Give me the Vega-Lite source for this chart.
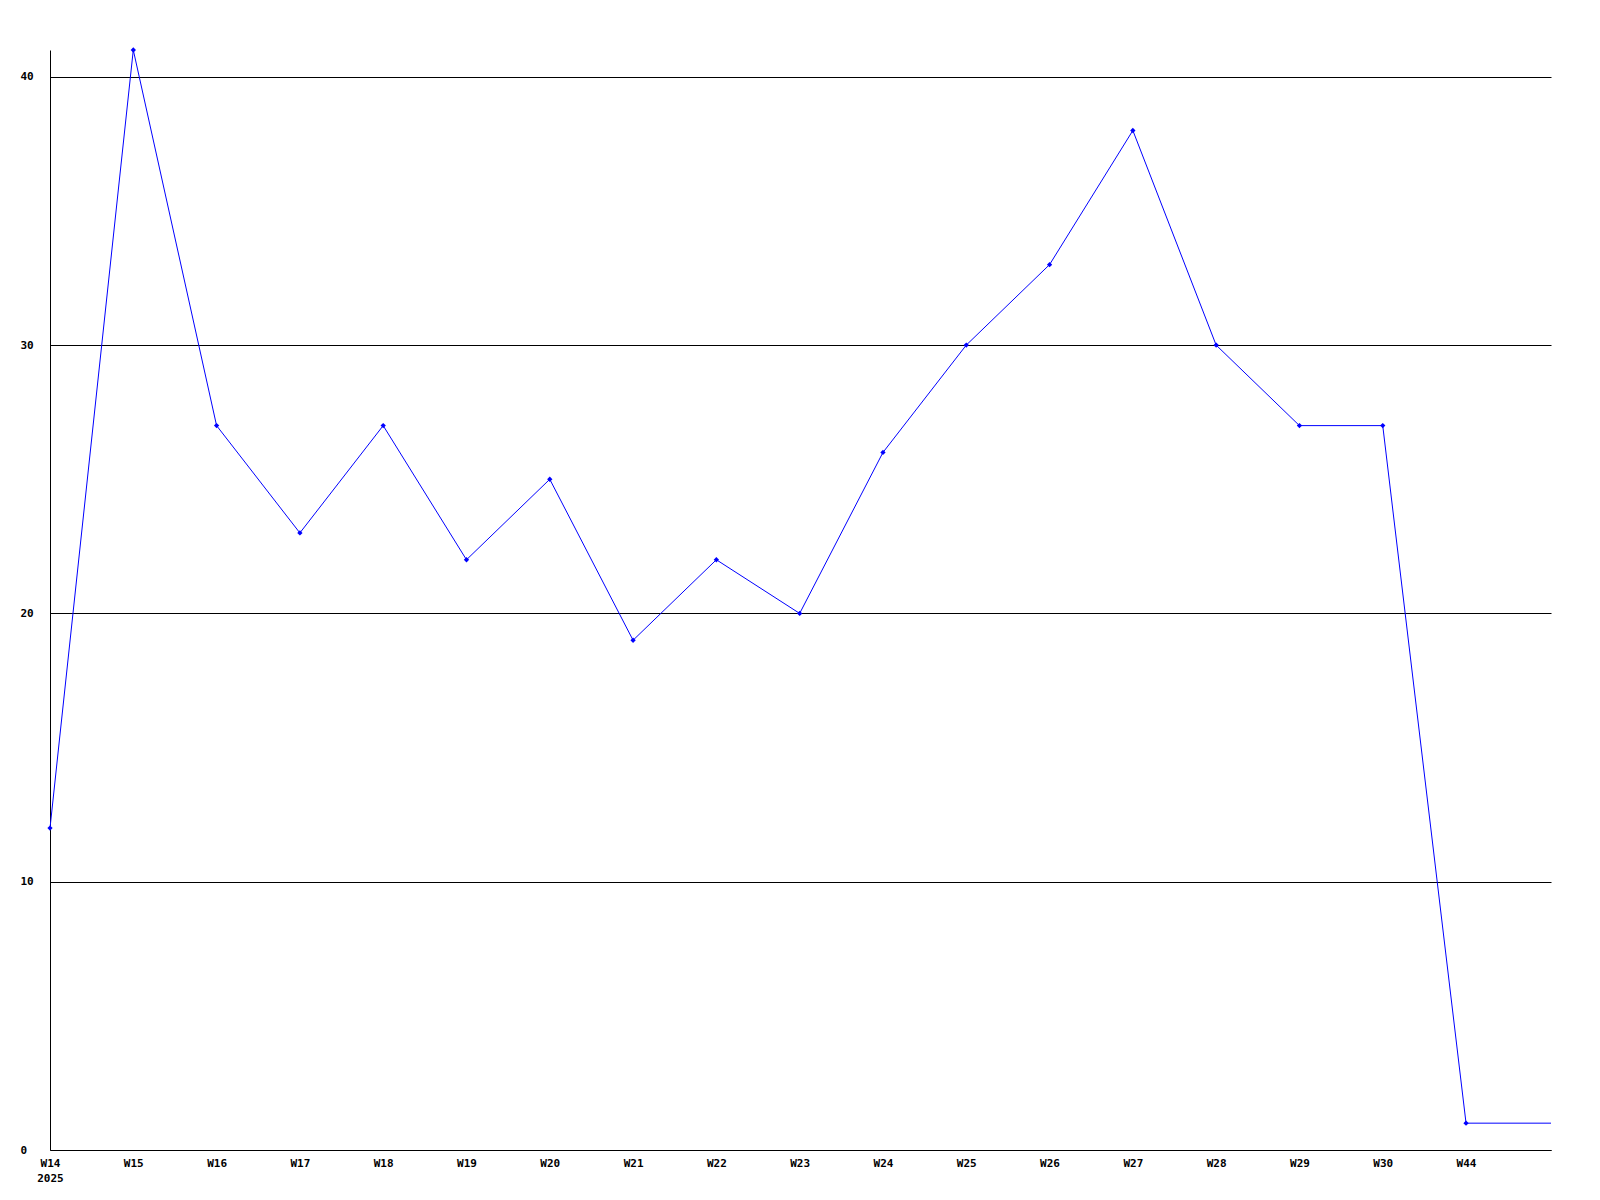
{
  "$schema": "https://vega.github.io/schema/vega-lite/v6.json",
  "autosize": "none",
  "width": 1501,
  "height": 1100,
  "padding": {"left": 50, "top": 50, "right": 49, "bottom": 50},
  "background": "white",
  "config": {"view": {"stroke": null}},
  "data": {"values": [
    {"i": 0, "week": "W14", "v": 12, "m": true},
    {"i": 1, "week": "W15", "v": 41, "m": true},
    {"i": 2, "week": "W16", "v": 27, "m": true},
    {"i": 3, "week": "W17", "v": 23, "m": true},
    {"i": 4, "week": "W18", "v": 27, "m": true},
    {"i": 5, "week": "W19", "v": 22, "m": true},
    {"i": 6, "week": "W20", "v": 25, "m": true},
    {"i": 7, "week": "W21", "v": 19, "m": true},
    {"i": 8, "week": "W22", "v": 22, "m": true},
    {"i": 9, "week": "W23", "v": 20, "m": true},
    {"i": 10, "week": "W24", "v": 26, "m": true},
    {"i": 11, "week": "W25", "v": 30, "m": true},
    {"i": 12, "week": "W26", "v": 33, "m": true},
    {"i": 13, "week": "W27", "v": 38, "m": true},
    {"i": 14, "week": "W28", "v": 30, "m": true},
    {"i": 15, "week": "W29", "v": 27, "m": true},
    {"i": 16, "week": "W30", "v": 27, "m": true},
    {"i": 17, "week": "W44", "v": 1, "m": true},
    {"i": 18.02, "week": "", "v": 1, "m": false}
  ]},
  "encoding": {
    "x": {
      "field": "i", "type": "quantitative",
      "scale": {"domain": [0, 18.02], "nice": false, "zero": false},
      "axis": {
        "title": null,
        "values": [0,1,2,3,4,5,6,7,8,9,10,11,12,13,14,15,16,17],
        "labelExpr": "datum.value == 0 ? ['W14', '2025'] : 'W' + (datum.value == 17 ? 44 : datum.value + 14)",
        "ticks": false,
        "grid": false,
        "domainColor": "black",
        "domainWidth": 1,
        "labelFont": "DejaVu Sans Mono",
        "labelFontWeight": "bold",
        "labelFontSize": 11,
        "labelColor": "black",
        "labelPadding": 7,
        "labelLineHeight": 15,
        "labelBaseline": "top",
        "labelFlush": false,
        "labelOverlap": false
      }
    },
    "y": {
      "field": "v", "type": "quantitative",
      "scale": {"domain": [0, 41], "nice": false},
      "axis": {
        "title": null,
        "values": [0, 10, 20, 30, 40],
        "ticks": false,
        "grid": true,
        "gridColor": "black",
        "gridOpacity": 1,
        "gridWidth": 1,
        "domainColor": "black",
        "labelFont": "DejaVu Sans Mono",
        "labelFontWeight": "bold",
        "labelFontSize": 11,
        "labelColor": "black",
        "labelAlign": "left",
        "labelBaseline": "middle",
        "labelPadding": 30,
        "labelFlush": false,
        "labelOverlap": false
      }
    }
  },
  "layer": [
    {"mark": {"type": "line", "color": "#0000ff", "strokeWidth": 1}},
    {
      "transform": [{"filter": "datum.m"}],
      "mark": {"type": "point", "shape": "diamond", "filled": true, "color": "#0000ff", "size": 28, "opacity": 1}
    }
  ]
}
